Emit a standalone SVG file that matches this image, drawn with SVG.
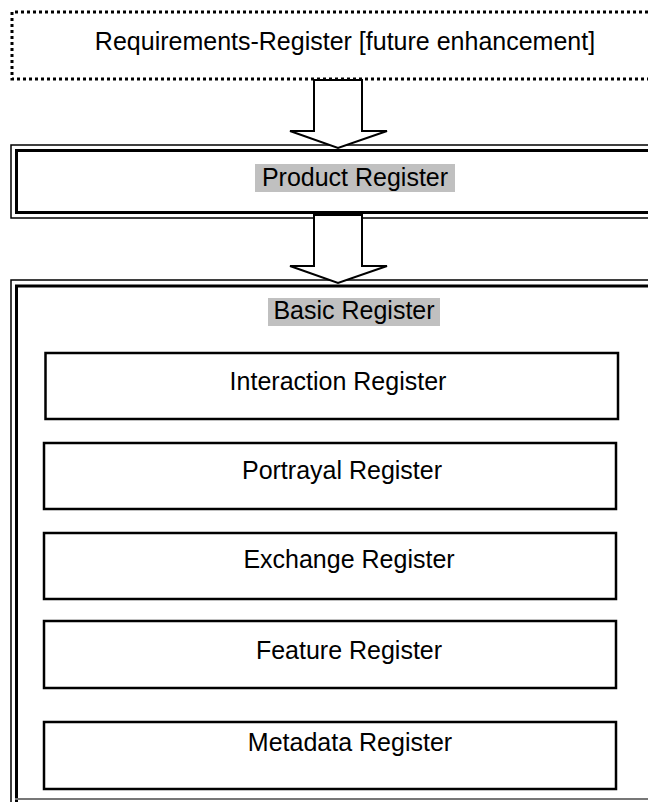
<svg xmlns="http://www.w3.org/2000/svg" width="648" height="802" viewBox="0 0 648 802">
<style>
text{font-family:"Liberation Sans",Arial,sans-serif;font-size:25px;fill:#000;text-anchor:middle}
.dot{fill:none;stroke:#000;stroke-width:3;stroke-dasharray:3 3}
.outer{fill:none;stroke:#000;stroke-width:1.5}
.inner{fill:none;stroke:#000;stroke-width:3}
.box{fill:#fff;stroke:#000;stroke-width:2.5}
.hl{fill:#c0c0c0}
.arrow{fill:#fff;stroke:#000;stroke-width:2;stroke-linejoin:miter}
</style>
<rect width="648" height="802" fill="#fff"/>
<g id="requirements-register">
<path class="dot" d="M660,12 H12 V79 H660"/>
<text x="345" y="50">Requirements-Register [future enhancement]</text>
</g>
<g id="product-register">
<rect class="outer" x="11" y="145" width="660" height="73"/>
<rect class="inner" x="16.5" y="150.5" width="660" height="62"/>
<rect class="hl" x="255" y="164" width="200" height="28"/>
<text x="355" y="186">Product Register</text>
</g>
<g id="basic-register">
<path d="M11,802 V280 H660" fill="none" stroke="#000" stroke-width="1.5"/>
<path d="M16.5,802 V286 H660" fill="none" stroke="#000" stroke-width="3"/>
<path d="M15,799 H660" fill="none" stroke="#777" stroke-width="2"/>
<rect class="hl" x="268" y="298" width="172" height="28"/>
<text x="354" y="319">Basic Register</text>
</g>
<g id="interaction-register">
<rect class="box" x="45.5" y="353" width="572.5" height="66"/>
<text x="338" y="390">Interaction Register</text>
</g>
<g id="portrayal-register">
<rect class="box" x="44" y="443" width="572" height="66"/>
<text x="342" y="479">Portrayal Register</text>
</g>
<g id="exchange-register">
<rect class="box" x="44" y="533" width="572" height="66"/>
<text x="349" y="568">Exchange Register</text>
</g>
<g id="feature-register">
<rect class="box" x="44" y="621" width="572" height="67"/>
<text x="349" y="659">Feature Register</text>
</g>
<g id="metadata-register">
<rect class="box" x="44" y="722" width="572" height="67"/>
<text x="350" y="751">Metadata Register</text>
</g>
<g id="connectors">
<polygon class="arrow" points="314,80 362,80 362,131 387,131 338,148 290,131 314,131"/>
<polygon class="arrow" points="314,215 362,215 362,266 387,266 338,283 290,266 314,266"/>
</g>
</svg>
